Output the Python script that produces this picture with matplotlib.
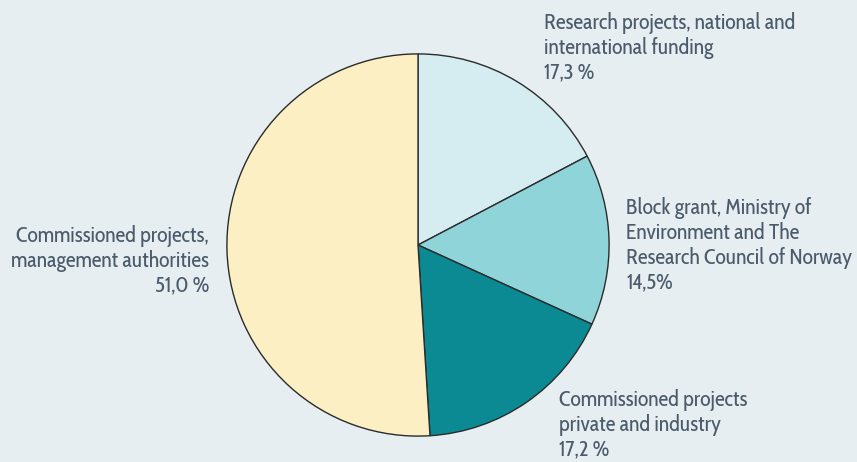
import matplotlib.pyplot as plt
from matplotlib import font_manager

# shares of income
labels = [
    "Research projects, national and\ninternational funding\n17,3 %",
    "Block grant, Ministry of\nEnvironment and The\nResearch Council of Norway\n14,5%",
    "Commissioned projects\nprivate and industry\n17,2 %",
    "Commissioned projects,\nmanagement authorities\n51,0 %",
]
shares = [17.3, 14.5, 17.2, 51.0]
colors = ["#d5edf1", "#8fd4d9", "#0b8a94", "#fdefc4"]

bg = "#e6eef1"
txt = "#4b5b6b"

names = {f.name for f in font_manager.fontManager.ttflist}
fam = "Cabin Condensed" if "Cabin Condensed" in names else "DejaVu Sans"

W, H = 857, 462
fig = plt.figure(figsize=(W / 100, H / 100), dpi=100, facecolor=bg)

cx, cy, r = 418, 245, 193
ax = fig.add_axes([(cx - r) / W, (H - cy - r) / H, 2 * r / W, 2 * r / H])
ax.set_facecolor(bg)
ax.pie(shares, colors=colors, startangle=90, counterclock=False,
       wedgeprops=dict(edgecolor="#2b2b2b", linewidth=1.0))
ax.set_xlim(-1.01, 1.01)
ax.set_ylim(-1.01, 1.01)
ax.axis("off")

# label anchors in pixels (x, top y, alignment)
pos = [(544, 12, "left"), (626, 197, "left"), (559, 389, "left"), (209, 225, "right")]
for lab, (x, y, ha) in zip(labels, pos):
    fig.text(x / W, 1 - y / H, lab, ha=ha, va="top", family=fam,
             fontsize=15.7, color=txt, linespacing=1.17,
             multialignment=ha)

fig.savefig("out.png", dpi=100, facecolor=bg)
